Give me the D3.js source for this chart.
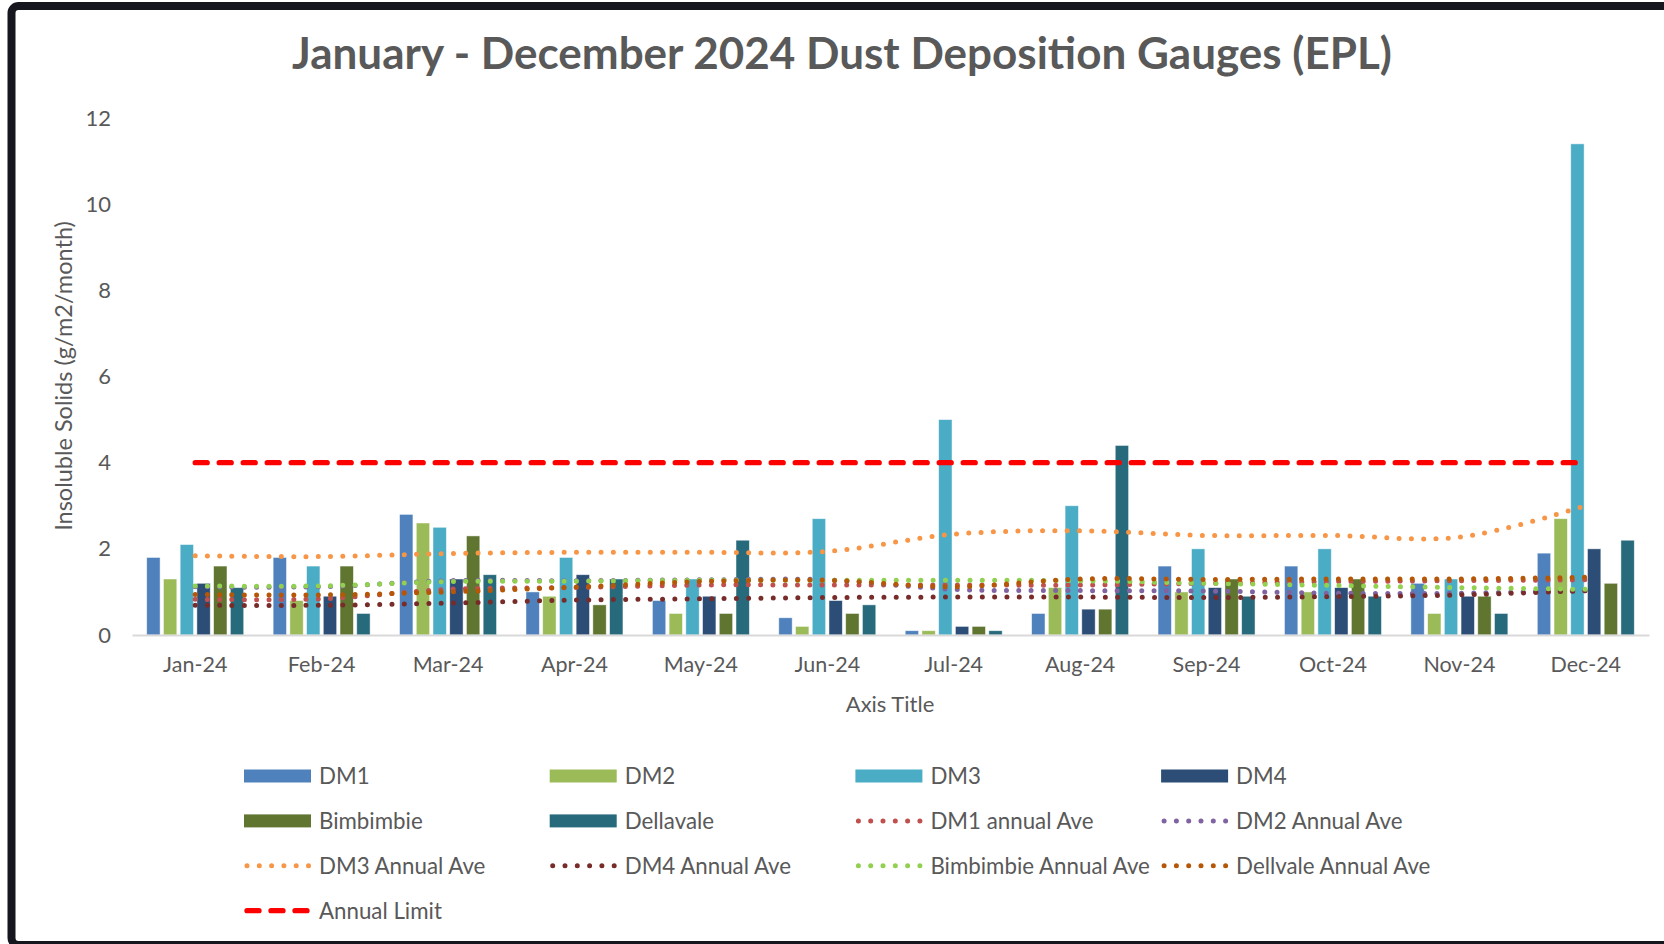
<!DOCTYPE html>
<html>
<head>
<meta charset="utf-8">
<script src="https://cdn.jsdelivr.net/npm/d3@7"></script>
<style>
  body { margin: 0; background: #fff; }
  svg { display: block; font-family: Lato, "Open Sans", sans-serif; }
</style>
</head>
<body>
<div id="chart"></div>
<script>
// months + monthly readings (g/m2/month)
const months = ["Jan-24", "Feb-24", "Mar-24", "Apr-24", "May-24", "Jun-24",
  "Jul-24", "Aug-24", "Sep-24", "Oct-24", "Nov-24", "Dec-24"]

const barNames = ["DM1", "DM2", "DM3", "DM4", "Bimbimbie", "Dellavale"]
const dm1 = [1.8, 1.8, 2.8, 1.0, 0.8, 0.4, 0.1, 0.5, 1.6, 1.6, 1.2, 1.9]
const dm2 = [1.3, 0.8, 2.6, 0.9, 0.5, 0.2, 0.1, 1.1, 1.0, 1.0, 0.5, 2.7]
const dm3 = [2.1, 1.6, 2.5, 1.8, 1.3, 2.7, 5.0, 3.0, 2.0, 2.0, 1.3, 11.4]
const dm4 = [1.2, 0.9, 1.3, 1.4, 0.9, 0.8, 0.2, 0.6, 1.1, 1.1, 0.9, 2.0]
const bimbimbie = [1.6, 1.6, 2.3, 0.7, 0.5, 0.5, 0.2, 0.6, 1.3, 1.3, 0.9, 1.2]
const dellavale = [1.1, 0.5, 1.4, 1.3, 2.2, 0.7, 0.1, 4.4, 0.9, 0.9, 0.5, 2.2]
const barValues = [dm1, dm2, dm3, dm4, bimbimbie, dellavale]
const barColors = ["#4f81bd", "#9bbb59", "#4bacc6", "#2c4d75", "#5f7530", "#276a7c"]

// annual averages (dotted lines)
const lineNames = ["DM1 annual Ave", "DM2 Annual Ave", "DM3 Annual Ave",
  "DM4 Annual Ave", "Bimbimbie Annual Ave", "Dellvale Annual Ave"]
const dm1Ave = [0.83, 0.84, 1.06, 1.10, 1.16, 1.16, 1.16, 1.16, 1.20, 1.24, 1.26, 1.28]
const dm2Ave = [1.12, 1.12, 1.26, 1.26, 1.28, 1.28, 1.06, 1.03, 1.02, 0.97, 0.97, 1.03]
const dm3Ave = [1.84, 1.82, 1.89, 1.92, 1.92, 1.94, 2.34, 2.42, 2.31, 2.31, 2.27, 3.0]
const dm4Ave = [0.69, 0.69, 0.74, 0.81, 0.84, 0.87, 0.88, 0.88, 0.87, 0.89, 0.93, 1.03]
const bimbimbieAve = [1.14, 1.14, 1.24, 1.25, 1.27, 1.27, 1.27, 1.26, 1.20, 1.15, 1.10, 1.06]
const dellvaleAve = [0.94, 0.93, 1.00, 1.11, 1.24, 1.27, 1.12, 1.30, 1.29, 1.30, 1.30, 1.34]
const lineValues = [dm1Ave, dm2Ave, dm3Ave, dm4Ave, bimbimbieAve, dellvaleAve]
const lineColors = ["#c0504d", "#8064a2", "#f79646", "#772c2a", "#92d050", "#b65708"]

const limitName = "Annual Limit"
const annualLimit = [4, 4, 4, 4, 4, 4, 4, 4, 4, 4, 4, 4]

const yTicks = [0, 2, 4, 6, 8, 10, 12]

const WIDTH = 1664
const HEIGHT = 944
const TEXT = "#595959"

const svg = d3.select("#chart").append("svg")
  .attr("width", WIDTH)
  .attr("height", HEIGHT)

// dark frame around the chart
svg.append("rect")
  .attr("x", 11.5)
  .attr("y", 6)
  .attr("width", 1720)
  .attr("height", 939)
  .attr("rx", 7)
  .attr("fill", "#fff")
  .attr("stroke", "#15161e")
  .attr("stroke-width", 8)

const x0 = d3.scaleBand()
  .domain(months)
  .range([132, 1649])

const x1 = d3.scaleBand()
  .domain(barNames)
  .range([0, x0.bandwidth()])
  .paddingInner(0.2)
  .paddingOuter(0.88)

const y = d3.scaleLinear()
  .domain([0, 12])
  .range([635, 118])

// title, sized to the reference width
const title = svg.append("text")
  .attr("x", 842)
  .attr("y", 69)
  .attr("text-anchor", "middle")
  .attr("font-weight", 700)
  .attr("font-size", 40)
  .attr("fill", TEXT)
  .text("January - December 2024 Dust Deposition Gauges (EPL)")
const tw = title.node().getComputedTextLength()
title.attr("font-size", 40 * 1100 / tw)

// y axis (labels only)
const yAxis = svg.append("g")
  .attr("transform", "translate(111,0)")
  .call(d3.axisLeft(y).tickValues(yTicks).tickSize(0).tickPadding(0))
yAxis.select(".domain").remove()
yAxis.selectAll("text")
  .attr("font-size", 22)
  .attr("font-family", "Lato, sans-serif")
  .attr("fill", TEXT)

svg.append("text")
  .attr("transform", "translate(72,376) rotate(-90)")
  .attr("text-anchor", "middle")
  .attr("font-size", 23.5)
  .attr("fill", TEXT)
  .text("Insoluble Solids (g/m2/month)")

// bars
const groups = svg.append("g").selectAll("g")
  .data(months)
  .join("g")
  .attr("transform", d => `translate(${x0(d)},0)`)

groups.selectAll("rect")
  .data((m, i) => barNames.map((name, s) => ({ name, s, value: barValues[s][i] })))
  .join("rect")
  .attr("x", d => x1(d.name))
  .attr("width", x1.bandwidth())
  .attr("y", d => y(d.value))
  .attr("height", d => y(0) - y(d.value))
  .attr("fill", d => barColors[d.s])
  .attr("stroke", "rgba(255,255,255,0.6)")
  .attr("stroke-width", 0.8)

// x axis
const xAxis = svg.append("g")
  .attr("transform", `translate(0,${y(0)})`)
  .call(d3.axisBottom(x0).tickSize(0).tickPadding(22))
xAxis.select(".domain")
  .attr("stroke", "#d9d9d9")
  .attr("stroke-width", 2)
xAxis.selectAll("text")
  .attr("font-size", 21.5)
  .attr("font-family", "Lato, sans-serif")
  .attr("fill", TEXT)

svg.append("text")
  .attr("x", 890)
  .attr("y", 712)
  .attr("text-anchor", "middle")
  .attr("font-size", 22)
  .attr("fill", TEXT)
  .text("Axis Title")

// average lines + limit
const cx = m => x0(m) + x0.bandwidth() / 2
const line = d3.line()
  .x((d, i) => cx(months[i]))
  .y(d => y(d))
  .curve(d3.curveCatmullRom.alpha(0.5))

const lines = svg.append("g").attr("fill", "none")
lineValues.forEach((vals, k) => {
  lines.append("path")
    .attr("d", line(vals))
    .attr("stroke", lineColors[k])
    .attr("stroke-width", 5)
    .attr("stroke-linecap", "round")
    .attr("stroke-dasharray", "0 12.3")
})
lines.append("path")
  .attr("d", d3.line().x((d, i) => cx(months[i])).y(d => y(d))(annualLimit))
  .attr("stroke", "#ff0000")
  .attr("stroke-width", 5.3)
  .attr("stroke-linecap", "round")
  .attr("stroke-dasharray", "12 12")

// legend
const legendItems = barNames.map((n, i) => ({ name: n, type: "bar", color: barColors[i] }))
  .concat(lineNames.map((n, i) => ({ name: n, type: "dot", color: lineColors[i] })))
  .concat([{ name: limitName, type: "dash", color: "#ff0000" }])

const legend = svg.append("g")
const item = legend.selectAll("g")
  .data(legendItems)
  .join("g")
  .attr("transform", (d, i) => `translate(${244 + (i % 4) * 305.7},${776 + Math.floor(i / 4) * 44.9})`)

item.filter(d => d.type === "bar").append("rect")
  .attr("x", 0)
  .attr("y", -6.5)
  .attr("width", 67)
  .attr("height", 13)
  .attr("fill", d => d.color)

item.filter(d => d.type === "dot").append("line")
  .attr("x1", 3).attr("x2", 66)
  .attr("stroke", d => d.color)
  .attr("stroke-width", 5)
  .attr("stroke-linecap", "round")
  .attr("stroke-dasharray", "0 12.3")

item.filter(d => d.type === "dash").append("line")
  .attr("x1", 3).attr("x2", 65)
  .attr("stroke", d => d.color)
  .attr("stroke-width", 5.3)
  .attr("stroke-linecap", "round")
  .attr("stroke-dasharray", "12 12")

item.append("text")
  .attr("x", 75)
  .attr("dy", "0.35em")
  .attr("font-size", 22.3)
  .attr("fill", TEXT)
  .text(d => d.name)
</script>
</body>
</html>
